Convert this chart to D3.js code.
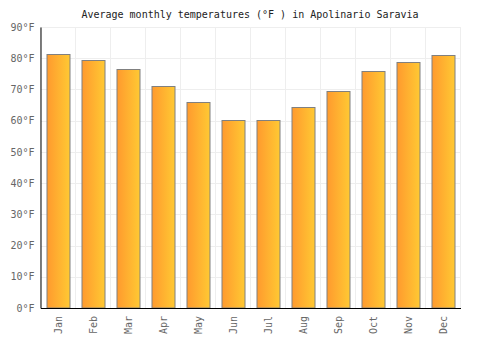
<!DOCTYPE html>
<html>
<head>
<meta charset="utf-8">
<script src="https://cdn.jsdelivr.net/npm/d3@7"></script>
<style>
  body { margin: 0; background: #fff; }
  svg text { font-family: "DejaVu Sans Mono", monospace; }
</style>
</head>
<body>
<div id="chart"></div>
<script>
// Data
const months = ['Jan', 'Feb', 'Mar', 'Apr', 'May', 'Jun', 'Jul', 'Aug', 'Sep', 'Oct', 'Nov', 'Dec'];
const temps = [81.3, 79.3, 76.5, 71.1, 66.0, 60.2, 60.2, 64.4, 69.5, 75.9, 78.7, 80.9];
const yTicks = [0, 10, 20, 30, 40, 50, 60, 70, 80, 90];
const title = 'Average monthly temperatures (°F ) in Apolinario Saravia';

const width = 500, height = 350;
const margin = { top: 27, right: 39.5, bottom: 42, left: 40.5 };
const innerW = width - margin.left - margin.right;
const innerH = height - margin.top - margin.bottom;

const svg = d3.select('#chart').append('svg')
    .attr('width', width)
    .attr('height', height);

// Gradient for bars
const grad = svg.append('defs').append('linearGradient')
    .attr('id', 'barGrad')
    .attr('x1', '0%').attr('x2', '100%')
    .attr('y1', '0%').attr('y2', '0%');
grad.append('stop').attr('offset', '0%').attr('stop-color', '#ff9a2e');
grad.append('stop').attr('offset', '100%').attr('stop-color', '#ffc933');

svg.append('text')
    .attr('x', width / 2)
    .attr('y', 18)
    .attr('text-anchor', 'middle')
    .style('font-size', '10px')
    .style('fill', '#222')
    .text(title);

const g = svg.append('g')
    .attr('transform', `translate(${margin.left},${margin.top})`);

const x = d3.scaleBand().domain(months).range([0, innerW]).paddingInner(0.34).paddingOuter(0.17);
const y = d3.scaleLinear().domain([0, 90]).range([innerH, 0]);

// Grid lines
const step = x.step();
g.append('g').selectAll('line.v')
    .data(d3.range(months.length + 1))
    .join('line')
    .attr('x1', i => Math.round(i * step))
    .attr('x2', i => Math.round(i * step))
    .attr('y1', 0).attr('y2', innerH)
    .attr('stroke', '#eeeeee');

g.append('g').selectAll('line.h')
    .data(yTicks)
    .join('line')
    .attr('x1', 0).attr('x2', innerW)
    .attr('y1', d => Math.round(y(d)) + 0.5)
    .attr('y2', d => Math.round(y(d)) + 0.5)
    .attr('stroke', '#eeeeee');

// Bars
g.append('g').selectAll('rect')
    .data(temps)
    .join('rect')
    .attr('x', (d, i) => Math.round(x(months[i])) + 0.5)
    .attr('y', d => Math.round(y(d)) + 0.5)
    .attr('width', Math.round(x.bandwidth()))
    .attr('height', d => innerH - Math.round(y(d)) - 0.5)
    .attr('fill', 'url(#barGrad)')
    .attr('stroke', '#808080')
    .attr('stroke-width', 1);

// Axes
const yAxis = g.append('g')
    .call(d3.axisLeft(y).tickValues(yTicks).tickSize(0).tickPadding(6).tickFormat(d => d + '°F'));
yAxis.select('.domain').attr('stroke', '#000');
yAxis.selectAll('text').style('font-size', '10px').style('fill', '#666').style('font-family', '"DejaVu Sans Mono", monospace');

const xAxis = g.append('g')
    .attr('transform', `translate(0,${innerH})`)
    .call(d3.axisBottom(x).tickSize(0));
xAxis.select('.domain').attr('stroke', '#000');
xAxis.selectAll('text')
    .style('font-size', '10px')
    .style('fill', '#666')
    .style('font-family', '"DejaVu Sans Mono", monospace')
    .attr('text-anchor', 'end')
    .attr('transform', 'rotate(-90)')
    .attr('x', -8)
    .attr('y', 0)
    .attr('dy', '0.35em');
</script>
</body>
</html>
